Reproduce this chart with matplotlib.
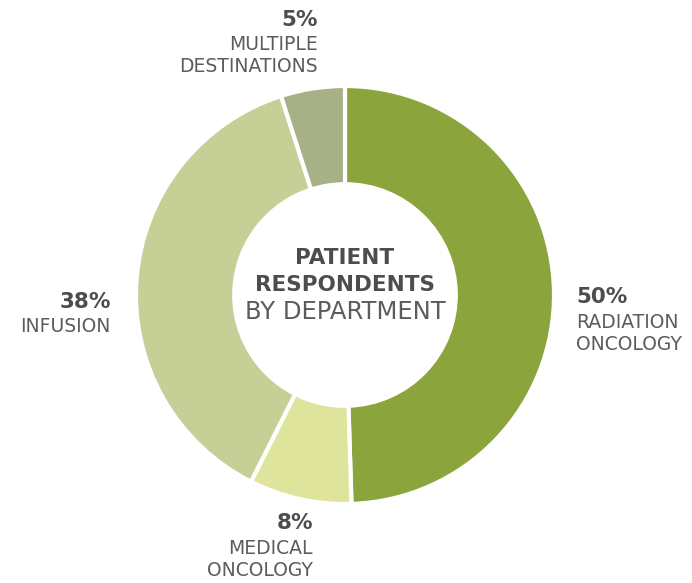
import matplotlib.pyplot as plt

# Data
labels = ['RADIATION\nONCOLOGY', 'MEDICAL\nONCOLOGY', 'INFUSION', 'MULTIPLE\nDESTINATIONS']
pcts = [50, 8, 38, 5]
colors = ['#8ba53c', '#dee49b', '#c6cf95', '#a7b187']

W, H = 692, 583
fig = plt.figure(figsize=(W / 100, H / 100), dpi=100)
ax = fig.add_axes([0, 0, 1, 1])

cx, cy, r = 345, H - 295, 209
ax.pie(pcts, colors=colors, startangle=90, counterclock=False,
       center=(cx, cy), radius=r, frame=True,
       wedgeprops=dict(width=r * 0.47, edgecolor='white', linewidth=3))
ax.set_xlim(0, W)
ax.set_ylim(0, H)
ax.set_aspect('equal')
ax.axis('off')

font = 'DejaVu Sans'
pc_col = '#4d4d4d'
lb_col = '#5c5c5c'

# centre title
ax.text(cx, H - 258, 'PATIENT', ha='center', va='center', fontsize=15.5,
        fontweight='bold', color=pc_col, family=font)
ax.text(cx, H - 285, 'RESPONDENTS', ha='center', va='center', fontsize=15.5,
        fontweight='bold', color=pc_col, family=font)
ax.text(cx, H - 312, 'BY DEPARTMENT', ha='center', va='center', fontsize=17.5,
        color=lb_col, family=font)

# outer labels: (x, y of pct, alignment)
pos = [(576, 297, 'left'), (313, 523, 'right'), (111, 302, 'right'), (318, 20, 'right')]
for (x, y, ha), p, lab in zip(pos, pcts, labels):
    ax.text(x, H - y, f'{p}%', ha=ha, va='center', fontsize=15.5,
            fontweight='bold', color=pc_col, family=font)
    for i, line in enumerate(lab.split('\n')):
        ax.text(x, H - y - 25 - 22 * i, line, ha=ha, va='center', fontsize=13.5,
                color=lb_col, family=font)

fig.savefig('out.png', dpi=100, facecolor='white')
